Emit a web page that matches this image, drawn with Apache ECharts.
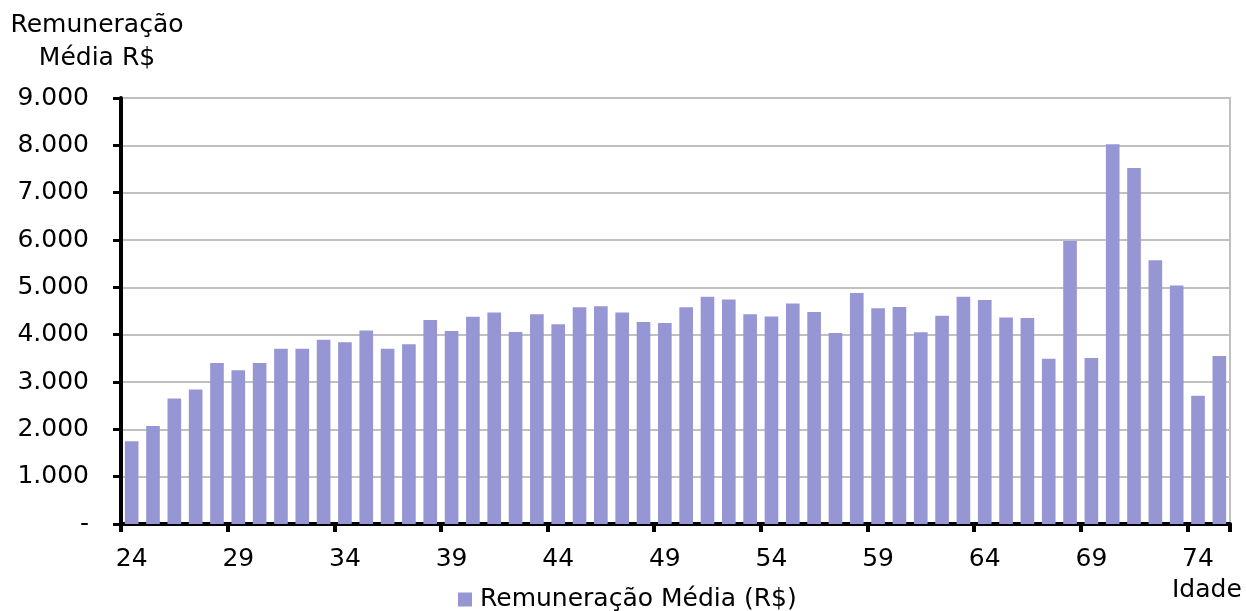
<!DOCTYPE html>
<html>
<head>
<meta charset="utf-8">
<script src="https://cdn.jsdelivr.net/npm/echarts@6/dist/echarts.min.js"></script>
<style>
html,body{margin:0;padding:0;background:#fff;}
#c{width:1246px;height:611px;}
</style>
</head>
<body>
<div id="c"></div>
<script>
const ages = ['24','25','26','27','28','29','30','31','32','33','34','35','36','37','38','39','40','41','42','43','44','45','46','47','48','49','50','51','52','53','54','55','56','57','58','59','60','61','62','63','64','65','66','67','68','69','70','71','72','73','74','75'];
const remuneracao = [1750,2070,2650,2840,3400,3250,3400,3700,3700,3890,3840,4090,3700,3800,4310,4080,4380,4470,4055,4430,4220,4580,4600,4470,4270,4245,4580,4800,4745,4430,4385,4660,4480,4035,4880,4560,4585,4050,4400,4800,4730,4365,4350,3490,5980,3505,8025,7520,5570,5040,2710,3550];
const seriesName = 'Remuneração Média (R$)';
const yTitle = 'Remuneração\nMédia R$';
const xTitle = 'Idade';

const FONT = 'DejaVu Sans';
function fmt(v){
  if (v === 0) return '-';
  return String(v).replace(/\B(?=(\d{3})+(?!\d))/g, '.');
}
const chart = echarts.init(document.getElementById('c'), null, {renderer:'canvas'});
chart.setOption({
  animation:false,
  textStyle:{fontFamily:FONT},
  grid:{left:121, right:16, top:98, bottom:87, show:true, borderColor:'#c0c0c0', borderWidth:2, containLabel:false},
  legend:{
    data:[seriesName], left:458, top:587, padding:0,
    itemWidth:14, itemHeight:14, icon:'rect',
    textStyle:{fontFamily:FONT, fontSize:25, color:'#000', padding:[0,0,0,3]}
  },
  xAxis:{
    type:'category', data:ages, boundaryGap:true,
    axisLine:{lineStyle:{color:'#000', width:4}},
    axisTick:{show:true, interval:function(i){return i % 5 === 0 && i < ages.length;}, length:8, lineStyle:{color:'#000', width:4}},
    axisLabel:{interval:4, margin:23, fontFamily:FONT, fontSize:25, color:'#000'},
    splitLine:{show:false}
  },
  yAxis:{
    type:'value', min:0, max:9000, interval:1000,
    axisLine:{show:true, lineStyle:{color:'#000', width:4}},
    axisTick:{show:true, length:8, lineStyle:{color:'#000', width:3}},
    axisLabel:{margin:32, fontFamily:FONT, fontSize:25, color:'#000', formatter:fmt},
    splitLine:{show:true, lineStyle:{color:'#c0c0c0', width:2}}
  },
  graphic:[
    {type:'text', x:97, y:9, style:{text:yTitle, font:'25px "DejaVu Sans"', textAlign:'center', lineHeight:33, fill:'#000'}},
    {type:'text', x:1172, y:578, style:{text:xTitle, font:'25px "DejaVu Sans"', fill:'#000'}}
  ],
  series:[{
    name:seriesName, type:'bar', data:remuneracao, barWidth:'64%',
    itemStyle:{color:'#9796d5'}
  }]
});
</script>
</body>
</html>
